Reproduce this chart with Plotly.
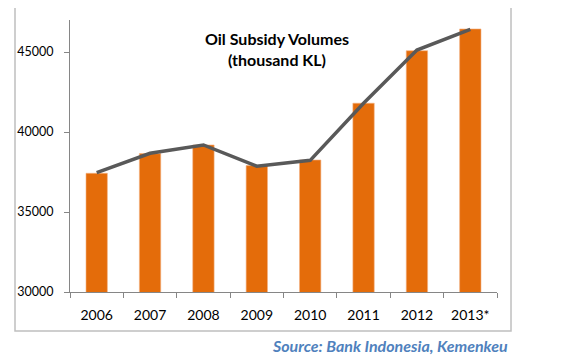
import plotly.graph_objects as go

years = ["2006", "2007", "2008", "2009", "2010", "2011", "2012", "2013*"]
bar_values = [37420, 38650, 39190, 37900, 38250, 41800, 45080, 46440]
line_values = [37460, 38670, 39190, 37860, 38230, 41800, 45120, 46420]
y_ticks = [30000, 35000, 40000, 45000]

FONT = "Lato"

fig = go.Figure()
fig.add_trace(go.Bar(
    x=years, y=bar_values,
    marker=dict(color="#E46C0A", line=dict(color="#F4B183", width=0.6)),
    width=0.4, showlegend=False,
))
fig.add_trace(go.Scatter(
    x=years, y=line_values, mode="lines",
    line=dict(color="#595959", width=3.5), showlegend=False,
))

# page body has an 8px default margin, so the figure is offset by 8px
fig.update_layout(
    width=569, height=347,
    margin=dict(l=62, r=80, t=12, b=63, autoexpand=False),
    paper_bgcolor="white", plot_bgcolor="white",
    font=dict(family=FONT, size=14, color="black"),
    xaxis=dict(
        type="category", showline=True, linecolor="#868686", linewidth=1,
        ticks="outside", tickson="boundaries", ticklen=5, tickcolor="#868686",
        showgrid=False, tickfont=dict(size=14, family=FONT),
        ticklabelstandoff=10, automargin=False,
    ),
    yaxis=dict(
        range=[30000, 47000], tickvals=y_ticks, ticktext=[str(v) for v in y_ticks],
        showline=True, linecolor="#868686", linewidth=1,
        ticks="outside", ticklen=5, tickcolor="#868686",
        showgrid=False, zeroline=False, tickfont=dict(size=12.5, family=FONT),
        ticklabelstandoff=8, automargin=False,
    ),
    shapes=[dict(
        type="rect", xref="paper", yref="paper",
        x0=-0.1288, x1=1.0328, y0=-0.1434, y1=1.0588,
        line=dict(color="#BFBFBF", width=1.5), fillcolor="rgba(0,0,0,0)",
        layer="below",
    )],
    annotations=[
        dict(text="<b>Oil Subsidy Volumes<br>(thousand KL)</b>",
             xref="paper", yref="paper", x=0.4848, y=0.895,
             xanchor="center", yanchor="middle", showarrow=False,
             font=dict(family=FONT, size=16, color="black")),
        dict(text="<b><i>Source: Bank Indonesia, Kemenkeu</i></b>",
             xref="paper", yref="paper", x=1.0304, y=-0.195,
             xanchor="right", yanchor="middle", showarrow=False,
             font=dict(family=FONT, size=16, color="#4F81BD")),
    ],
    bargap=0.6,
)

fig.write_html("out.html")
